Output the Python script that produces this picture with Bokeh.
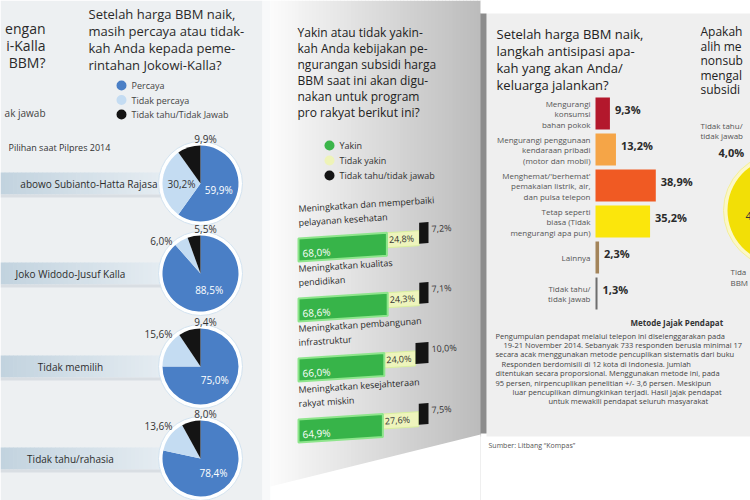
import math
import numpy as np
from bokeh.plotting import figure
from bokeh.models import Range1d
from bokeh.embed import file_html
from bokeh.resources import INLINE
from bokeh.core.properties import value

W, H = 750, 500
FONT = "Open Sans"

# ---------------- DATA ----------------
pilpres_groups = ["abowo Subianto-Hatta Rajasa", "Joko Widodo-Jusuf Kalla",
                  "Tidak memilih", "Tidak tahu/rahasia"]
percaya = [59.9, 88.5, 75.0, 78.4]
tidak_percaya = [30.2, 6.0, 15.6, 13.6]
tidak_tahu_pie = [9.9, 5.5, 9.4, 8.0]
pie_colors = ["#4a7fc6", "#c4dcf2", "#141414"]

program_labels = [["Meningkatkan dan memperbaiki", "pelayanan kesehatan"],
                  ["Meningkatkan kualitas", "pendidikan"],
                  ["Meningkatkan pembangunan", "infrastruktur"],
                  ["Meningkatkan kesejahteraan", "rakyat miskin"]]
yakin = [68.0, 68.6, 66.0, 64.9]
tidak_yakin = [24.8, 24.3, 24.0, 27.6]
tidak_tahu_bar = [7.2, 7.1, 10.0, 7.5]

langkah_labels = [["Mengurangi", "konsumsi", "bahan pokok"],
                  ["Mengurangi penggunaan", "kendaraan pribadi", "(motor dan mobil)"],
                  ["Menghemat/'berhemat'", "pemakaian listrik, air,", "dan pulsa telepon"],
                  ["Tetap seperti", "biasa (Tidak", "mengurangi apa pun)"],
                  ["Lainnya"],
                  ["Tidak tahu/", "tidak jawab"]]
langkah_values = [9.3, 13.2, 38.9, 35.2, 2.3, 1.3]
langkah_colors = ["#b3182c", "#f5a547", "#f05a23", "#fbe60c", "#a3845a", "#6e6e6e"]

setuju_values = [4.0, 48.0, 48.0]
setuju_colors = ["#141414", "#f2df06", "#f2df06"]


def fmt(v):
    return f"{v:.1f}".replace(".", ",") + "%"


def Y(py):
    return H - py


p = figure(width=W, height=H, x_range=Range1d(0, W), y_range=Range1d(0, H),
           output_backend="svg", toolbar_location=None, min_border=0)
p.axis.visible = False
p.grid.visible = False
p.outline_line_color = None
p.background_fill_color = "#ffffff"
p.border_fill_color = "#ffffff"


def txt(x, py, s, size=12, color="#2a2a2a", align="left", bold=False, angle=0.0,
        baseline="middle"):
    p.text(x=[x], y=[Y(py)], text=[s], text_font=value(FONT),
           text_font_size=f"{size}px", text_color=color, text_align=align,
           text_baseline=baseline, text_font_style="bold" if bold else "normal",
           angle=angle)


def mix(c0, c1, t):
    a = [int(c0[i:i + 2], 16) for i in (1, 3, 5)]
    b = [int(c1[i:i + 2], 16) for i in (1, 3, 5)]
    return "#%02x%02x%02x" % tuple(int(round(a[k] + (b[k] - a[k]) * t)) for k in range(3))


def hgrad(x0, x1, ytop, ybot, c0, c1, n=40):
    xs = np.linspace(x0, x1, n + 1)
    cols = [mix(c0, c1, t) for t in np.linspace(0, 1, n)]
    p.quad(left=xs[:-1], right=xs[1:] + 0.6, top=Y(ytop), bottom=Y(ybot),
           fill_color=cols, line_color=None)


# ---------------- BACKGROUNDS ----------------
p.quad(left=[0], right=[262], top=[Y(0)], bottom=[Y(500)], fill_color="#edf0f2", line_color=None)
p.quad(left=[262], right=[270], top=[Y(0)], bottom=[Y(500)], fill_color="#f8f9fa", line_color=None)
hgrad(270, 480, 0, 500, "#fbfbfb", "#bcbcbc", n=60)
p.patch(x=[270, 480, 480, 270], y=[Y(486), Y(434), Y(500), Y(500)], fill_color="#ffffff", line_color=None)
p.quad(left=[480], right=[750], top=[Y(0)], bottom=[Y(13)], fill_color="#ffffff", line_color=None)
p.quad(left=[480], right=[750], top=[Y(436)], bottom=[Y(500)], fill_color="#ffffff", line_color=None)
p.quad(left=[486], right=[750], top=[Y(13)], bottom=[Y(436)], fill_color="#efefef", line_color=None)
p.quad(left=[480], right=[486], top=[Y(13)], bottom=[Y(433)], fill_color="#8c8c8c", line_color=None)

# ---------------- LEFT PANEL ----------------
for i, s in enumerate(["engan", "i-Kalla", "BBM?"]):
    txt(45, 28 + 17 * i, s, size=14, align="right")
txt(45, 112, "ak jawab", size=10, color="#444", align="right")

for i, s in enumerate(["Setelah harga BBM naik,", "masih percaya atau tidak-",
                       "kah Anda kepada peme-", "rintahan Jokowi-Kalla?"]):
    txt(88, 13 + 17 * i, s, size=13)

leg_left = ["Percaya", "Tidak percaya", "Tidak tahu/Tidak Jawab"]
for i, s in enumerate(leg_left):
    p.scatter(x=[121], y=[Y(85 + 14.5 * i)], size=10, marker="circle",
              fill_color=pie_colors[i], line_color=None)
    txt(131, 85 + 14.5 * i, s, size=9, color="#444")

txt(8, 147, "Pilihan saat Pilpres 2014", size=9, color="#333")

pie_cy = [183, 273, 366, 458]
pie_cx, pie_r = 200, 38
for i, g in enumerate(pilpres_groups):
    cy = pie_cy[i]
    hgrad(0, 168, cy - 11, cy + 11, "#c2d3df", "#e6edf2", n=40)
    p.quad(left=[0], right=[168], top=[Y(cy + 11)], bottom=[Y(cy + 14)],
           fill_color="#d9dee3", line_color=None)
    if i == 0:
        txt(157, cy, g, size=10, color="#2d2d2d", align="right")
    else:
        txt(70, cy, g, size=10, color="#2d2d2d", align="center")
    p.circle(x=[pie_cx], y=[Y(cy)], radius=pie_r + 4, fill_color="#ffffff",
             fill_alpha=0.95, line_color="#d3e3f0", line_width=1)
    vals = [percaya[i], tidak_percaya[i], tidak_tahu_pie[i]]
    start = math.pi / 2
    mids = []
    for v, c in zip(vals, pie_colors):
        end = start - 2 * math.pi * v / 100.0
        p.wedge(x=[pie_cx], y=[Y(cy)], radius=pie_r, start_angle=start, end_angle=end,
                direction="clock", fill_color=c, line_color=None)
        mids.append((start + end) / 2)
        start = end
    a = mids[0]
    txt(pie_cx + 0.42 * pie_r * math.cos(a) + 3, cy - 0.42 * pie_r * math.sin(a) + 2,
        fmt(vals[0]), size=10, color="#ffffff", align="center")
    if vals[1] > 20:
        a = mids[1]
        txt(pie_cx + 0.55 * pie_r * math.cos(a) + 2, cy - 0.55 * pie_r * math.sin(a),
            fmt(vals[1]), size=10, color="#333", align="center")
    else:
        txt(pie_cx - 28, cy - 33, fmt(vals[1]), size=10, color="#333", align="right")
    txt(pie_cx + 5, cy - 45, fmt(vals[2]), size=10, color="#333", align="center")

# ---------------- MIDDLE PANEL ----------------
for i, s in enumerate(["Yakin atau tidak yakin-", "kah Anda kebijakan pe-",
                       "ngurangan subsidi harga", "BBM saat ini akan digu-",
                       "nakan untuk program", "pro rakyat berikut ini?"]):
    txt(297, 32 + 16 * i, s, size=12, color="#222")

leg_mid = ["Yakin", "Tidak yakin", "Tidak tahu/tidak jawab"]
mid_colors = ["#3bb54a", "#eef3b8", "#141414"]
for i, s in enumerate(leg_mid):
    p.scatter(x=[329], y=[Y(145 + 15 * i)], size=10, marker="circle",
              fill_color=mid_colors[i], line_color=None)
    txt(339, 145 + 15 * i, s, size=9, color="#333")

k = 0.065
ang = math.atan(k)
x0m, sc = 298, 1.3
row_t0 = [238, 298, 358, 419]


def top_at(t0, x):
    return t0 - k * (x - x0m)


def para(xa, xb, t0, dy, h, color, line=None, lw=0):
    xs = [xa, xb, xb, xa]
    ys = [Y(top_at(t0, xa) + dy), Y(top_at(t0, xb) + dy),
          Y(top_at(t0, xb) + dy + h), Y(top_at(t0, xa) + dy + h)]
    p.patch(x=xs, y=ys, fill_color=color, line_color=line, line_width=lw)


for i in range(4):
    t0 = row_t0[i]
    for j, s in enumerate(program_labels[i]):
        txt(x0m, top_at(t0, x0m) - 30 + 14 * j, s, size=9, color="#2a2a2a", angle=ang)
    xg = x0m + yakin[i] * sc
    xy = xg + tidak_yakin[i] * sc
    xt = xy + tidak_tahu_bar[i] * sc
    para(xg, xy, t0, 0, 15, "#eef4bc", line="#d9f0a0", lw=1)
    para(x0m, xg, t0, 0, 23, "#37b449", line="#8ee58c", lw=2)
    para(xy, xt, t0, -8, 21, "#141414")
    txt(x0m + 4, top_at(t0, x0m + 4) + 15, fmt(yakin[i]), size=10, color="#ffffff", angle=ang)
    txt(xg + 2, top_at(t0, xg + 2) + 7, fmt(tidak_yakin[i]), size=9, color="#333", angle=ang)
    txt(xt + 3, top_at(t0, xt + 3) - 1, fmt(tidak_tahu_bar[i]), size=9, color="#333", angle=ang)

# ---------------- RIGHT PANEL ----------------
for i, s in enumerate(["Setelah harga BBM naik,", "langkah antisipasi apa-",
                       "kah yang akan Anda/", "keluarga jalankan?"]):
    txt(496, 33 + 17 * i, s, size=13, color="#222")

base_x, sc2 = 595, 1.55
for i, v in enumerate(langkah_values):
    cy = 113 + 36 * i
    p.quad(left=[base_x], right=[base_x + v * sc2], top=[Y(cy - 16)], bottom=[Y(cy + 16)],
           fill_color=langkah_colors[i], line_color=None)
    lines = langkah_labels[i]
    n = len(lines)
    for j, s in enumerate(lines):
        txt(590, cy + (j - (n - 1) / 2) * 10.5, s, size=8, color="#555", align="right")
    txt(base_x + v * sc2 + 5, cy - 4, fmt(v), size=11, color="#2a2a2a", bold=True)

txt(630, 322, "Metode Jajak Pendapat", size=8, color="#333", bold=True)
metode = [("Pengumpulan pendapat melalui telepon ini diselenggarakan pada", 495),
          ("19-21 November 2014. Sebanyak 733 responden berusia minimal 17", 503),
          ("secara acak menggunakan metode pencuplikan sistematis dari buku", 495),
          ("Responden berdomisili di 12 kota di Indonesia. Jumlah", 501),
          ("ditentukan secara proporsional. Menggunakan metode ini, pada", 495),
          ("95 persen, nirpencuplikan penelitian +/- 3,6 persen. Meskipun", 495),
          ("luar pencuplikan dimungkinkan terjadi. Hasil jajak pendapat", 512),
          ("untuk mewakili pendapat seluruh masyarakat", 548)]
for i, (s, x) in enumerate(metode):
    txt(x, 335 + 9.4 * i, s, size=7.5, color="#444")

txt(488, 445, "Sumber: Litbang \u201cKompas\u201d", size=7, color="#555")

# far-right partial question & pie
for i, s in enumerate(["Apakah", "alih me", "nonsub", "mengal", "subsidi"]):
    txt(700, 31 + 14.5 * i, s, size=12, color="#222")
txt(700, 125, "Tidak tahu/", size=8, color="#555")
txt(700, 135, "tidak jawab", size=8, color="#555")
txt(718, 152, fmt(setuju_values[0]), size=11, color="#2a2a2a", bold=True)

bcx, bcy, br = 780, 210, 53
p.circle(x=[bcx], y=[Y(bcy)], radius=br + 4, fill_color="#fbf7c8", line_color="#f3ee9a")
start = math.pi / 2
for v, c in zip(setuju_values, setuju_colors):
    end = start + 2 * math.pi * v / 100.0
    p.wedge(x=[bcx], y=[Y(bcy)], radius=br, start_angle=start, end_angle=end,
            direction="anticlock", fill_color=c, line_color=None)
    start = end
txt(745, 215, fmt(setuju_values[1]), size=11, color="#333")
txt(730, 271, "Tida", size=8, color="#555")
txt(730, 282, "BBM", size=8, color="#555")

open("out.html", "w").write(file_html(p, INLINE))
